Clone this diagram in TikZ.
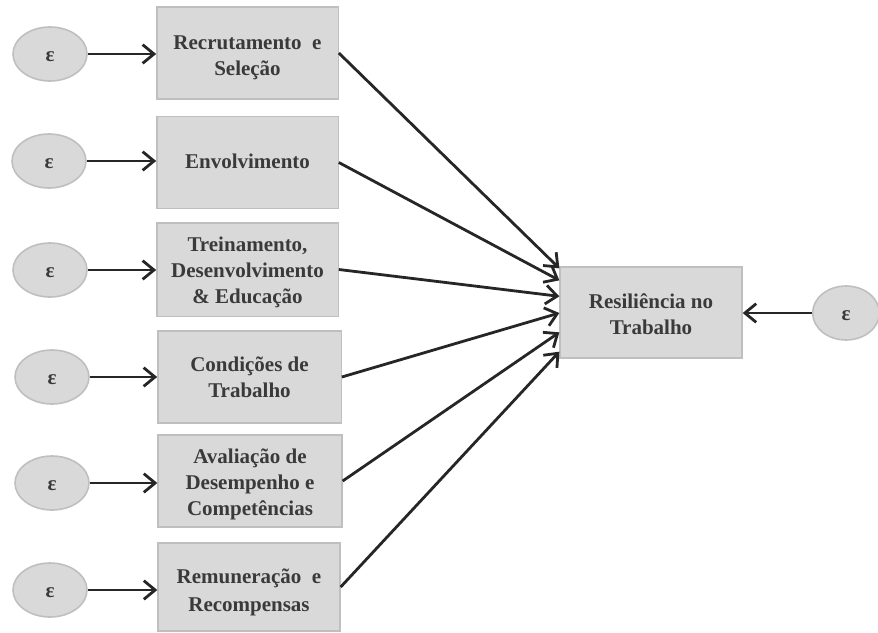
\documentclass[tikz,border=0pt]{standalone}
\usepackage{fontspec}
\setmainfont{Liberation Serif}
\usetikzlibrary{arrows.meta,shapes.geometric}
\definecolor{boxfill}{HTML}{D9D9D9}
\definecolor{boxdraw}{HTML}{BFBFBF}
\definecolor{txt}{HTML}{3A3A3A}
\definecolor{arr}{HTML}{262626}
\newcommand{\bxtxt}[2]{\raisebox{#1}[0pt][0pt]{\begin{tabular}{@{}c@{}}#2\end{tabular}}}
\newcommand{\eps}{\raisebox{-5.9pt}[0pt][0pt]{ε}}
\begin{document}
\begin{tikzpicture}[x=0.75pt,y=-0.75pt,
  varbox/.style={draw=boxdraw, line width=1pt, fill=boxfill, inner sep=0pt,
    minimum width=136pt, minimum height=69pt, text=txt,
    font=\fontsize{15.75}{19.5}\selectfont\bfseries},
  errnode/.style={ellipse, draw=boxdraw, line width=1.2pt, fill=boxfill, inner sep=0pt,
    minimum width=55.5pt, minimum height=40.5pt, text=txt,
    font=\fontsize{15.75}{19}\selectfont\bfseries},
  conn/.style={draw=arr, line width=2.1pt, -{Straight Barb[length=8.5pt,width=14pt,line width=2.1pt]}}
]
\useasboundingbox (0,0) rectangle (878,632);
% left boxes
\node[varbox] (b1) at (247.5,53) {\bxtxt{-6.8pt}{Recrutamento\ \ e\\Seleção}};
\node[varbox] (b2) at (247.5,162.5) {\bxtxt{-4.5pt}{Envolvimento}};
\node[varbox, minimum height=70pt] (b3) at (247.5,269.5) {\bxtxt{-6pt}{Treinamento,\\Desenvolvimento\\\&\ Educação}};
\node[varbox, minimum width=137.5pt] (b4) at (249.5,377) {\bxtxt{-5.5pt}{Condições de\\Trabalho}};
\node[varbox, minimum width=138pt] (b5) at (250,481) {\bxtxt{-6.2pt}{Avaliação de\\Desempenho e\\Competências}};
\node[varbox, minimum width=136.5pt, minimum height=66pt] (b6) at (249,587) {\bxtxt{-7.8pt}{Remuneração\ \ e\\[1.5pt]Recompensas}};
% target
\node[varbox, minimum width=136.5pt, minimum height=68.25pt] (r) at (651,312.5) {\bxtxt{-6.5pt}{Resiliência no\\Trabalho}};
% error terms
\node[errnode] (e1) at (50,54) {\eps};
\node[errnode] (e2) at (49,161) {\eps};
\node[errnode] (e3) at (50,270) {\eps};
\node[errnode] (e4) at (52,377) {\eps};
\node[errnode] (e5) at (52,483) {\eps};
\node[errnode] (e6) at (50,590) {\eps};
\node[errnode, minimum width=50pt] (er) at (846,313) {\eps};
% arrows error -> box
\draw[conn] (e1.east) -- (e1.east -| b1.west);
\draw[conn] (e2.east) -- (e2.east -| b2.west);
\draw[conn] (e3.east) -- (e3.east -| b3.west);
\draw[conn] (e4.east) -- (e4.east -| b4.west);
\draw[conn] (e5.east) -- (e5.east -| b5.west);
\draw[conn] (e6.east) -- (e6.east -| b6.west);
\draw[conn] (er.west) -- (er.west -| r.east);
% arrow ends on target
\coordinate (t1) at ([yshift=-1.5pt]r.north west);
\coordinate (t2) at ([yshift=-10.5pt]r.north west);
\coordinate (t3) at ([yshift=-22.5pt]r.north west);
\coordinate (t4) at ([yshift=-35pt]r.north west);
\coordinate (t5) at ([yshift=-49.5pt]r.north west);
\coordinate (t6) at ([yshift=-64pt]r.north west);
\draw[conn] (b1.east) -- (t1);
\draw[conn] (b2.east) -- (t2);
\draw[conn] (b3.east) -- (t3);
\draw[conn] (b4.east) -- (t4);
\draw[conn] (b5.east) -- (t5);
\draw[conn] (b6.east) -- (t6);
\end{tikzpicture}
\end{document}
